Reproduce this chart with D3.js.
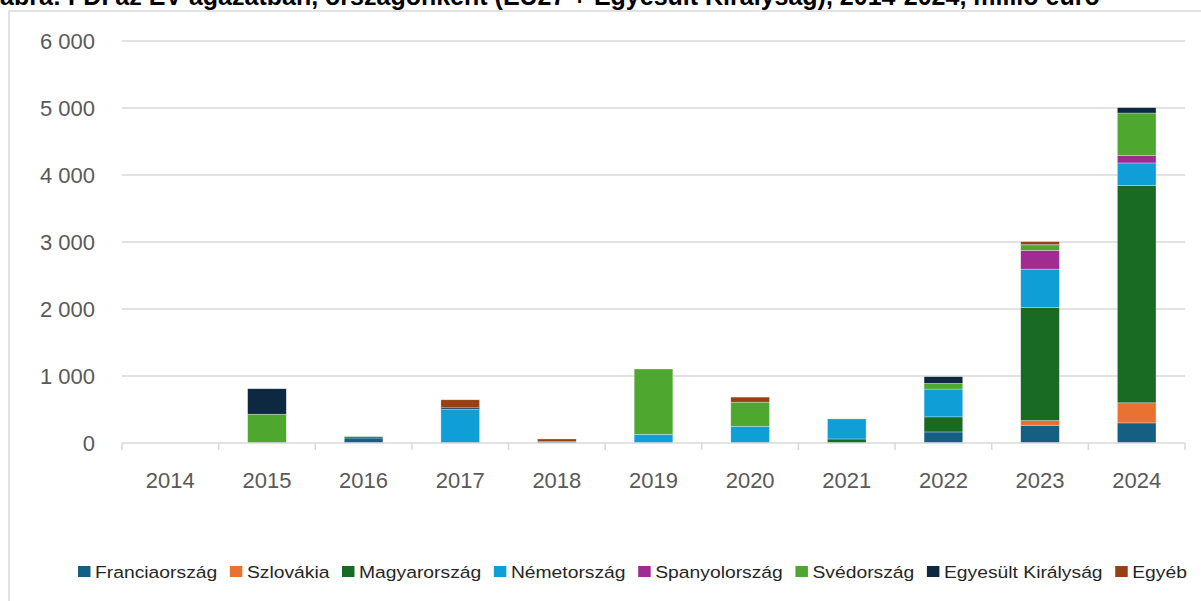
<!DOCTYPE html>
<html>
<head>
<meta charset="utf-8">
<script src="https://cdn.jsdelivr.net/npm/d3@7"></script>
<style>
  body { margin: 0; background: #fff; }
  svg { display: block; font-family: "Liberation Sans", Arial, sans-serif; }
</style>
</head>
<body>
<script>
// évek
const years = ["2014", "2015", "2016", "2017", "2018", "2019", "2020", "2021", "2022", "2023", "2024"];

// országok (stack sorrendje alulról felfelé)
const countries = ["Franciaország", "Szlovákia", "Magyarország", "Németország", "Spanyolország", "Svédország", "Egyesült Királyság", "Egyéb"];
const colors = ["#156082", "#E97132", "#196B24", "#0F9ED5", "#A02B93", "#4EA72E", "#0E2841", "#983F13"];

// millió euró, évenként
const franciaorszag = [0, 0, 75, 0, 20, 0, 0, 0, 165, 265, 300];
const szlovakia     = [0, 0, 0, 0, 0, 0, 0, 0, 0, 70, 300];
const magyarorszag  = [0, 0, 20, 0, 0, 0, 0, 60, 225, 1690, 3245];
const nemetorszag   = [0, 0, 0, 505, 0, 130, 250, 300, 415, 570, 335];
const spanyol       = [0, 0, 0, 0, 0, 0, 0, 0, 0, 280, 110];
const svedorszag    = [0, 430, 0, 0, 0, 975, 360, 0, 85, 70, 635];
const egyesultKir   = [0, 380, 0, 20, 0, 0, 0, 0, 100, 20, 80];
const egyeb         = [0, 0, 0, 120, 40, 0, 75, 0, 0, 40, 0];

const yTicks = [0, 1000, 2000, 3000, 4000, 5000, 6000];

const series = [franciaorszag, szlovakia, magyarorszag, nemetorszag, spanyol, svedorszag, egyesultKir, egyeb];

const rows = years.map(function(y, i) {
  const r = { year: y };
  countries.forEach(function(c, j) { r[c] = series[j][i]; });
  return r;
});

const W = 1201, H = 601;
const svg = d3.select("body").append("svg").attr("width", W).attr("height", H);

// cím (a kép tetején levágva, mint az eredetin)
svg.append("text")
  .attr("x", 0).attr("y", 5)
  .attr("font-size", 25).attr("font-weight", "bold")
  .attr("fill", "#000")
  .text("ábra: FDI az EV-ágazatban, országonként (EU27 + Egyesült Királyság), 2014-2024, millió euró");

// keret
svg.append("rect")
  .attr("x", 9).attr("y", 11).attr("width", 1400).attr("height", 800)
  .attr("fill", "#fff").attr("stroke", "#d9d9d9").attr("stroke-width", 1.5);

const x = d3.scaleBand().domain(years).range([122, 1185]).paddingInner(0.6).paddingOuter(0.3);
const y = d3.scaleLinear().domain([0, 6000]).range([443, 41]);

// rácsvonalak
svg.append("g").selectAll("line")
  .data(yTicks.filter(function(d) { return d > 0; }))
  .enter().append("line")
  .attr("x1", 122).attr("x2", 1185)
  .attr("y1", function(d) { return y(d); }).attr("y2", function(d) { return y(d); })
  .attr("stroke", "#d9d9d9").attr("stroke-width", 1.5);

// y címkék
svg.append("g").selectAll("text")
  .data(yTicks).enter().append("text")
  .attr("x", 95).attr("y", function(d) { return y(d); })
  .attr("dy", "0.35em").attr("text-anchor", "end")
  .attr("font-size", 22).attr("fill", "#595959")
  .text(function(d) { return d3.format(",")(d).replace(/,/g, " "); });

// oszlopok
const stack = d3.stack().keys(countries);
const layers = stack(rows);

svg.append("g").selectAll("g")
  .data(layers).enter().append("g")
  .attr("fill", function(d, i) { return colors[i]; })
  .selectAll("rect")
  .data(function(d) { return d; })
  .enter().append("rect")
  .filter(function(d) { return d[1] - d[0] > 0; })
  .attr("x", function(d) { return x(d.data.year); })
  .attr("width", x.bandwidth())
  .attr("y", function(d) { return y(d[1]); })
  .attr("height", function(d) { return y(d[0]) - y(d[1]); })
  .attr("stroke", "#ffffff").attr("stroke-opacity", 0.5).attr("stroke-width", 0.6);

// x tengely
const step = x.step();
svg.append("line")
  .attr("x1", 122).attr("x2", 1185).attr("y1", y(0)).attr("y2", y(0))
  .attr("stroke", "#d9d9d9").attr("stroke-width", 1.5);
svg.append("g").selectAll("line")
  .data(d3.range(years.length + 1)).enter().append("line")
  .attr("x1", function(i) { return 122 + i * step; })
  .attr("x2", function(i) { return 122 + i * step; })
  .attr("y1", y(0)).attr("y2", y(0) + 7)
  .attr("stroke", "#d9d9d9").attr("stroke-width", 1.5);

svg.append("g").selectAll("text")
  .data(years).enter().append("text")
  .attr("x", function(d) { return x(d) + x.bandwidth() / 2; })
  .attr("y", 488)
  .attr("text-anchor", "middle")
  .attr("font-size", 22).attr("fill", "#595959")
  .text(function(d) { return d; });

// jelmagyarázat
const legend = svg.append("g");
let lx = 0;
countries.forEach(function(c, i) {
  const g = legend.append("g").attr("transform", "translate(" + lx + ",0)");
  g.append("rect").attr("x", 0).attr("y", -6).attr("width", 11).attr("height", 11).attr("fill", colors[i]);
  const t = g.append("text").attr("x", 15).attr("y", 0).attr("dy", "0.35em")
    .attr("font-size", 17).attr("fill", "#262626").text(c);
  lx += 15 + t.node().getComputedTextLength() + 11;
});
lx -= 11;
const lscale = (1187 - 78) / lx;
legend.attr("transform", "translate(78,572) scale(" + Math.min(lscale, 1.2) + ",1)");
</script>
</body>
</html>
